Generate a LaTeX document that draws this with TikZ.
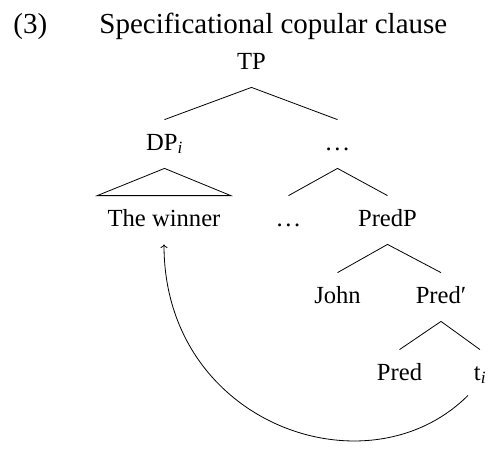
\documentclass[tikz,border=0pt]{standalone}
\usepackage{fontspec}
\setmainfont{Liberation Serif}
\usetikzlibrary{arrows.meta}
\newcommand{\mydots}{.\kern2.6pt.\kern2.6pt.}
\begin{document}
\begin{tikzpicture}[x=1pt,y=-1pt,line width=0.8pt,
  treenode/.style={font=\fontsize{24.6}{28}\selectfont, inner xsep=10pt, inner ysep=0pt,
    text height=30pt, text depth=18pt, anchor=base},
  titletext/.style={font=\fontsize{29}{33}\selectfont, inner sep=0pt, anchor=base west},
  branch/.style={draw=black},
  movearrow/.style={-{To[length=3.5pt,width=7pt]}}]
\useasboundingbox (0,0) rectangle (490,461);
\node[titletext] (num) at (13,33) {(3)};
\node[titletext] (title) at (99,33) {Specificational copular clause};

\node[treenode] (TP) at (251.5,69) {TP};
\node[treenode] (DPi) at (164.5,150) {DP\textsubscript{\itshape i}};
\node[treenode] (dotsA) at (337.5,150) {\mydots};
\node[treenode] (winner) at (164,226) {The winner};
\node[treenode] (dotsB) at (288.5,226) {\mydots};
\node[treenode] (PredP) at (387.5,226) {PredP};
\node[treenode] (John) at (337.5,303) {John};
\node[treenode] (Predbar) at (441,303) {Pred′};
\node[treenode] (Pred) at (399.5,380) {Pred};
\node[treenode] (ti) at (480,380) {t\textsubscript{\itshape i}};

\draw[branch] (DPi.north) -- (TP.south) -- (dotsA.north);
\draw[branch] (DPi.south) -- (winner.north west) -- (winner.north east) -- cycle;
\draw[branch] (dotsB.north) -- (dotsA.south) -- (PredP.north);
\draw[branch] (John.north) -- (PredP.south) -- (Predbar.north);
\draw[branch] (Pred.north) -- (Predbar.south) -- (ti.north);

\draw[movearrow] ([xshift=-12pt,yshift=3pt]ti.south) .. controls +(-100,100) and +(0,180) .. (winner.south);
\end{tikzpicture}
\end{document}
